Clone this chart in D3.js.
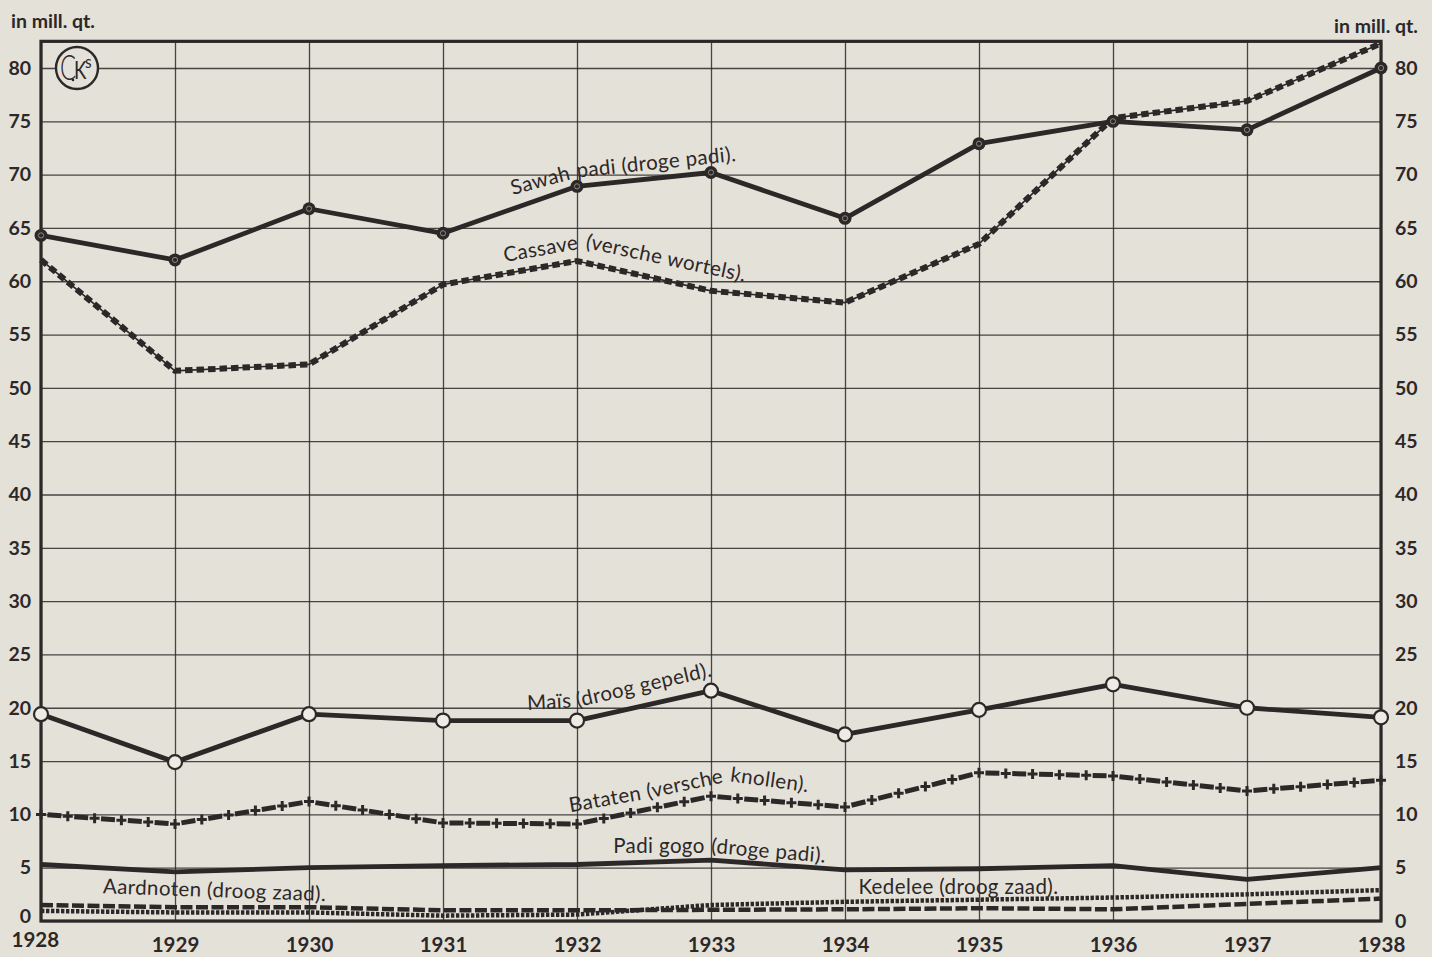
<!DOCTYPE html>
<html><head><meta charset="utf-8">
<script src="https://cdn.jsdelivr.net/npm/d3@7"></script>
<style>
html,body{margin:0;padding:0;background:#e4e1d9;}
svg{display:block;}
</style></head><body>
<svg id="chart" width="1432" height="957"></svg>
<script>
// ---------- data (in millions of quintals) ----------
const years      = [1928,1929,1930,1931,1932,1933,1934,1935,1936,1937,1938];
const sawahPadi  = [64.3,62.0,66.8,64.5,68.9,70.2,65.9,72.9,75.0,74.2,80.0];
const cassave    = [62.0,51.6,52.2,59.7,61.9,59.1,58.0,63.5,75.3,76.9,82.3];
const mais       = [19.4,14.9,19.4,18.8,18.8,21.6,17.5,19.8,22.2,20.0,19.1];
const bataten    = [10.0, 9.1,11.2, 9.2, 9.1,11.7,10.7,13.9,13.6,12.2,13.2];
const padiGogo   = [5.3, 4.6, 5.0, 5.2, 5.3, 5.7, 4.8, 4.9, 5.2, 3.9, 5.0];
const aardnoten  = [1.5, 1.3, 1.3, 1.0, 1.0, 1.05,1.1, 1.2, 1.1, 1.6, 2.1];
const kedelee    = [0.95,0.8, 0.8, 0.5, 0.6, 1.5, 1.8, 2.0, 2.2, 2.5, 2.9];
const yTickValues = [0,5,10,15,20,25,30,35,40,45,50,55,60,65,70,75,80];
const unitLabel  = "in mill. qt.";

// ---------- annotation placement (start point in data coordinates, pieces follow each other) ----------
const seriesLabels = [
  {year:1931.52, value:68.1, parts:[["Sawah",-15],["padi (droge padi).",-6]]},
  {year:1931.46, value:61.8, parts:[["Cassave",-10],["(versche wortels).",12]]},
  {year:1931.63, value:19.8, parts:[["Maïs",-3],["(droog gepeld).",-13]]},
  {year:1931.95, value:10.2, parts:[["Bataten",-10],["(versche",-12],["knollen).",8]]},
  {year:1932.27, value:6.4,  parts:[["Padi gogo",0],["(droge padi).",5]]},
  {year:1928.46, value:2.6,  parts:[["Aardnoten (droog zaad).",2]]},
  {year:1934.1,  value:2.5,  parts:[["Kedelee (droog zaad).",0]]}
];

// ---------- setup ----------
const ink = "#2d2828";
const paper = "#e4e1d9";
const font = "Lato, 'Open Sans', sans-serif";
const svg = d3.select("#chart");
svg.append("rect").attr("width",1432).attr("height",957).attr("fill",paper);

const x = d3.scaleLinear().domain([1928,1938]).range([41,1381]);
const y = d3.scaleLinear().domain([0,80]).range([921,68]);
const topValue = 82.5;
const x0 = x(1928), x1 = x(1938), yB = y(0), yT = y(topValue);

// horizontal grid
svg.append("g").attr("transform",`translate(${x0},0)`)
  .call(d3.axisLeft(y).tickValues(yTickValues).tickSize(-(x1-x0)).tickFormat(""))
  .call(g=>g.select(".domain").remove())
  .call(g=>g.selectAll("line").attr("stroke",ink).attr("stroke-width",1.3).attr("stroke-opacity",0.85));

// vertical grid
svg.append("g").attr("transform",`translate(0,${yB})`)
  .call(d3.axisBottom(x).tickValues(years).tickSize(-(yB-yT)).tickFormat(""))
  .call(g=>g.select(".domain").remove())
  .call(g=>g.selectAll("line").attr("stroke",ink).attr("stroke-width",1.3).attr("stroke-opacity",0.85));

// frame
svg.append("rect").attr("x",x0).attr("y",yT).attr("width",x1-x0).attr("height",yB-yT)
  .attr("fill","none").attr("stroke",ink).attr("stroke-width",3.2);

// left / right tick labels
function styleTicks(g, anchor){
  g.select(".domain").remove();
  g.selectAll("line").remove();
  g.selectAll("text").attr("fill",ink).attr("font-family",font)
    .attr("font-weight",700).attr("font-size",19.5).attr("text-anchor",anchor);
}
svg.append("g").attr("transform",`translate(${x0},0)`)
  .call(d3.axisLeft(y).tickValues(yTickValues).tickSize(0).tickPadding(10))
  .call(g=>styleTicks(g,"end"))
  .call(g=>g.selectAll(".tick").filter(d=>d===0).select("text").attr("dy","0.1em"));
svg.append("g").attr("transform",`translate(${x1},0)`)
  .call(d3.axisRight(y).tickValues(yTickValues).tickSize(0).tickPadding(14))
  .call(g=>styleTicks(g,"start"));

// year labels
svg.append("g").attr("transform",`translate(0,${yB})`)
  .call(d3.axisBottom(x).tickValues(years).tickFormat(d3.format("d")).tickSize(0).tickPadding(16))
  .call(g=>{
    g.select(".domain").remove();
    g.selectAll("text").attr("fill",ink).attr("font-family",font)
      .attr("font-weight",700).attr("font-size",20.5);
    g.selectAll(".tick").filter(d=>d===1928).select("text").attr("dy","0.5em").attr("dx","-0.3em");
  });

// unit labels
svg.append("text").attr("x",11).attr("y",28).text(unitLabel)
  .attr("fill",ink).attr("font-family",font).attr("font-weight",700).attr("font-size",19.5);
svg.append("text").attr("x",1418).attr("y",33).attr("text-anchor","end").text(unitLabel)
  .attr("fill",ink).attr("font-family",font).attr("font-weight",700).attr("font-size",19.5);

// logo
const logo = svg.append("g").attr("transform",`translate(${x0+36},${y(80)})`);
logo.append("circle").attr("r",21).attr("fill",paper).attr("stroke",ink).attr("stroke-width",2.4);
logo.append("text").text("C").attr("transform","translate(-17,12) scale(0.68,1)")
  .attr("font-family",font).attr("font-size",35).attr("font-weight",300).attr("fill",ink);
logo.append("text").text("K").attr("transform","translate(-3,11) scale(0.75,1)")
  .attr("font-family",font).attr("font-size",25).attr("font-weight",400).attr("fill",ink);
logo.append("text").text("s").attr("transform","translate(8,0) scale(0.85,1)")
  .attr("font-family",font).attr("font-size",18).attr("font-weight",400).attr("fill",ink);
logo.append("circle").attr("cx",-4).attr("cy",12).attr("r",1.3).attr("fill",ink);

// ---------- lines ----------
const lineGen = vals => d3.line().x((d,i)=>x(years[i])).y(d=>y(d))(vals);

// Kedelee (dotted)
svg.append("path").attr("d",lineGen(kedelee)).attr("fill","none").attr("stroke",ink)
  .attr("stroke-width",4.5).attr("stroke-dasharray","3.4,1.6");
// Aardnoten (long dashes)
svg.append("path").attr("d",lineGen(aardnoten)).attr("fill","none").attr("stroke",ink)
  .attr("stroke-width",4.5).attr("stroke-dasharray","12,3.5");
// Padi gogo (solid)
svg.append("path").attr("d",lineGen(padiGogo)).attr("fill","none").attr("stroke",ink)
  .attr("stroke-width",4.8).attr("stroke-linejoin","round");

// Bataten (dash + cross)
const batG = svg.append("g");
const sub = 5;
const cross = c => `M${c[0]-5},${c[1]}H${c[0]+5}M${c[0]},${c[1]-5}V${c[1]+5}`;
for(let i=0;i<years.length-1;i++){
  const p0=[x(years[i]),y(bataten[i])], p1=[x(years[i+1]),y(bataten[i+1])];
  const at=t=>[p0[0]+(p1[0]-p0[0])*t, p0[1]+(p1[1]-p0[1])*t];
  for(let k=0;k<sub;k++){
    const a=at((k+0.24)/sub), b=at((k+0.76)/sub);
    batG.append("line").attr("x1",a[0]).attr("y1",a[1]).attr("x2",b[0]).attr("y2",b[1])
      .attr("stroke",ink).attr("stroke-width",5);
    batG.append("path").attr("d",cross(at(k/sub)))
      .attr("stroke",ink).attr("stroke-width",3).attr("fill","none");
  }
}
batG.append("path").attr("d",cross([x(years[years.length-1]),y(bataten[bataten.length-1])]))
  .attr("stroke",ink).attr("stroke-width",3).attr("fill","none");

// Maïs (solid + open circles)
svg.append("path").attr("d",lineGen(mais)).attr("fill","none").attr("stroke",ink)
  .attr("stroke-width",4.8).attr("stroke-linejoin","round");
svg.append("g").selectAll("circle").data(mais).join("circle")
  .attr("cx",(d,i)=>x(years[i])).attr("cy",d=>y(d)).attr("r",7)
  .attr("fill","#eeebe4").attr("stroke",ink).attr("stroke-width",2.2);

// Cassave (chain)
svg.append("path").attr("d",lineGen(cassave)).attr("fill","none").attr("stroke",ink)
  .attr("stroke-width",1.6);
svg.append("path").attr("d",lineGen(cassave)).attr("fill","none").attr("stroke",ink)
  .attr("stroke-width",6).attr("stroke-dasharray","7.5,4");

// Sawah padi (solid + dark dots)
svg.append("path").attr("d",lineGen(sawahPadi)).attr("fill","none").attr("stroke",ink)
  .attr("stroke-width",4.8).attr("stroke-linejoin","round");
const sg = svg.append("g");
sg.selectAll("circle.o").data(sawahPadi).join("circle").attr("class","o")
  .attr("cx",(d,i)=>x(years[i])).attr("cy",d=>y(d)).attr("r",6.5).attr("fill",ink);
sg.selectAll("circle.i").data(sawahPadi).join("circle").attr("class","i")
  .attr("cx",(d,i)=>x(years[i])).attr("cy",d=>y(d)).attr("r",2.6)
  .attr("fill","none").attr("stroke","#8d8780").attr("stroke-width",1);

// series labels (pieces chained along the line)
const labG = svg.append("g");
seriesLabels.forEach(lab=>{
  let px = x(lab.year), py = y(lab.value);
  lab.parts.forEach(([txt,rot])=>{
    const t = labG.append("text")
      .attr("transform",`translate(${px},${py}) rotate(${rot})`)
      .text(txt).attr("fill",ink).attr("font-family",font)
      .attr("font-size",20.5).attr("font-weight",400).attr("letter-spacing",0.4);
    const len = t.node().getComputedTextLength() + 6;
    const r = rot*Math.PI/180;
    px += len*Math.cos(r); py += len*Math.sin(r);
  });
});
</script>
</body></html>
